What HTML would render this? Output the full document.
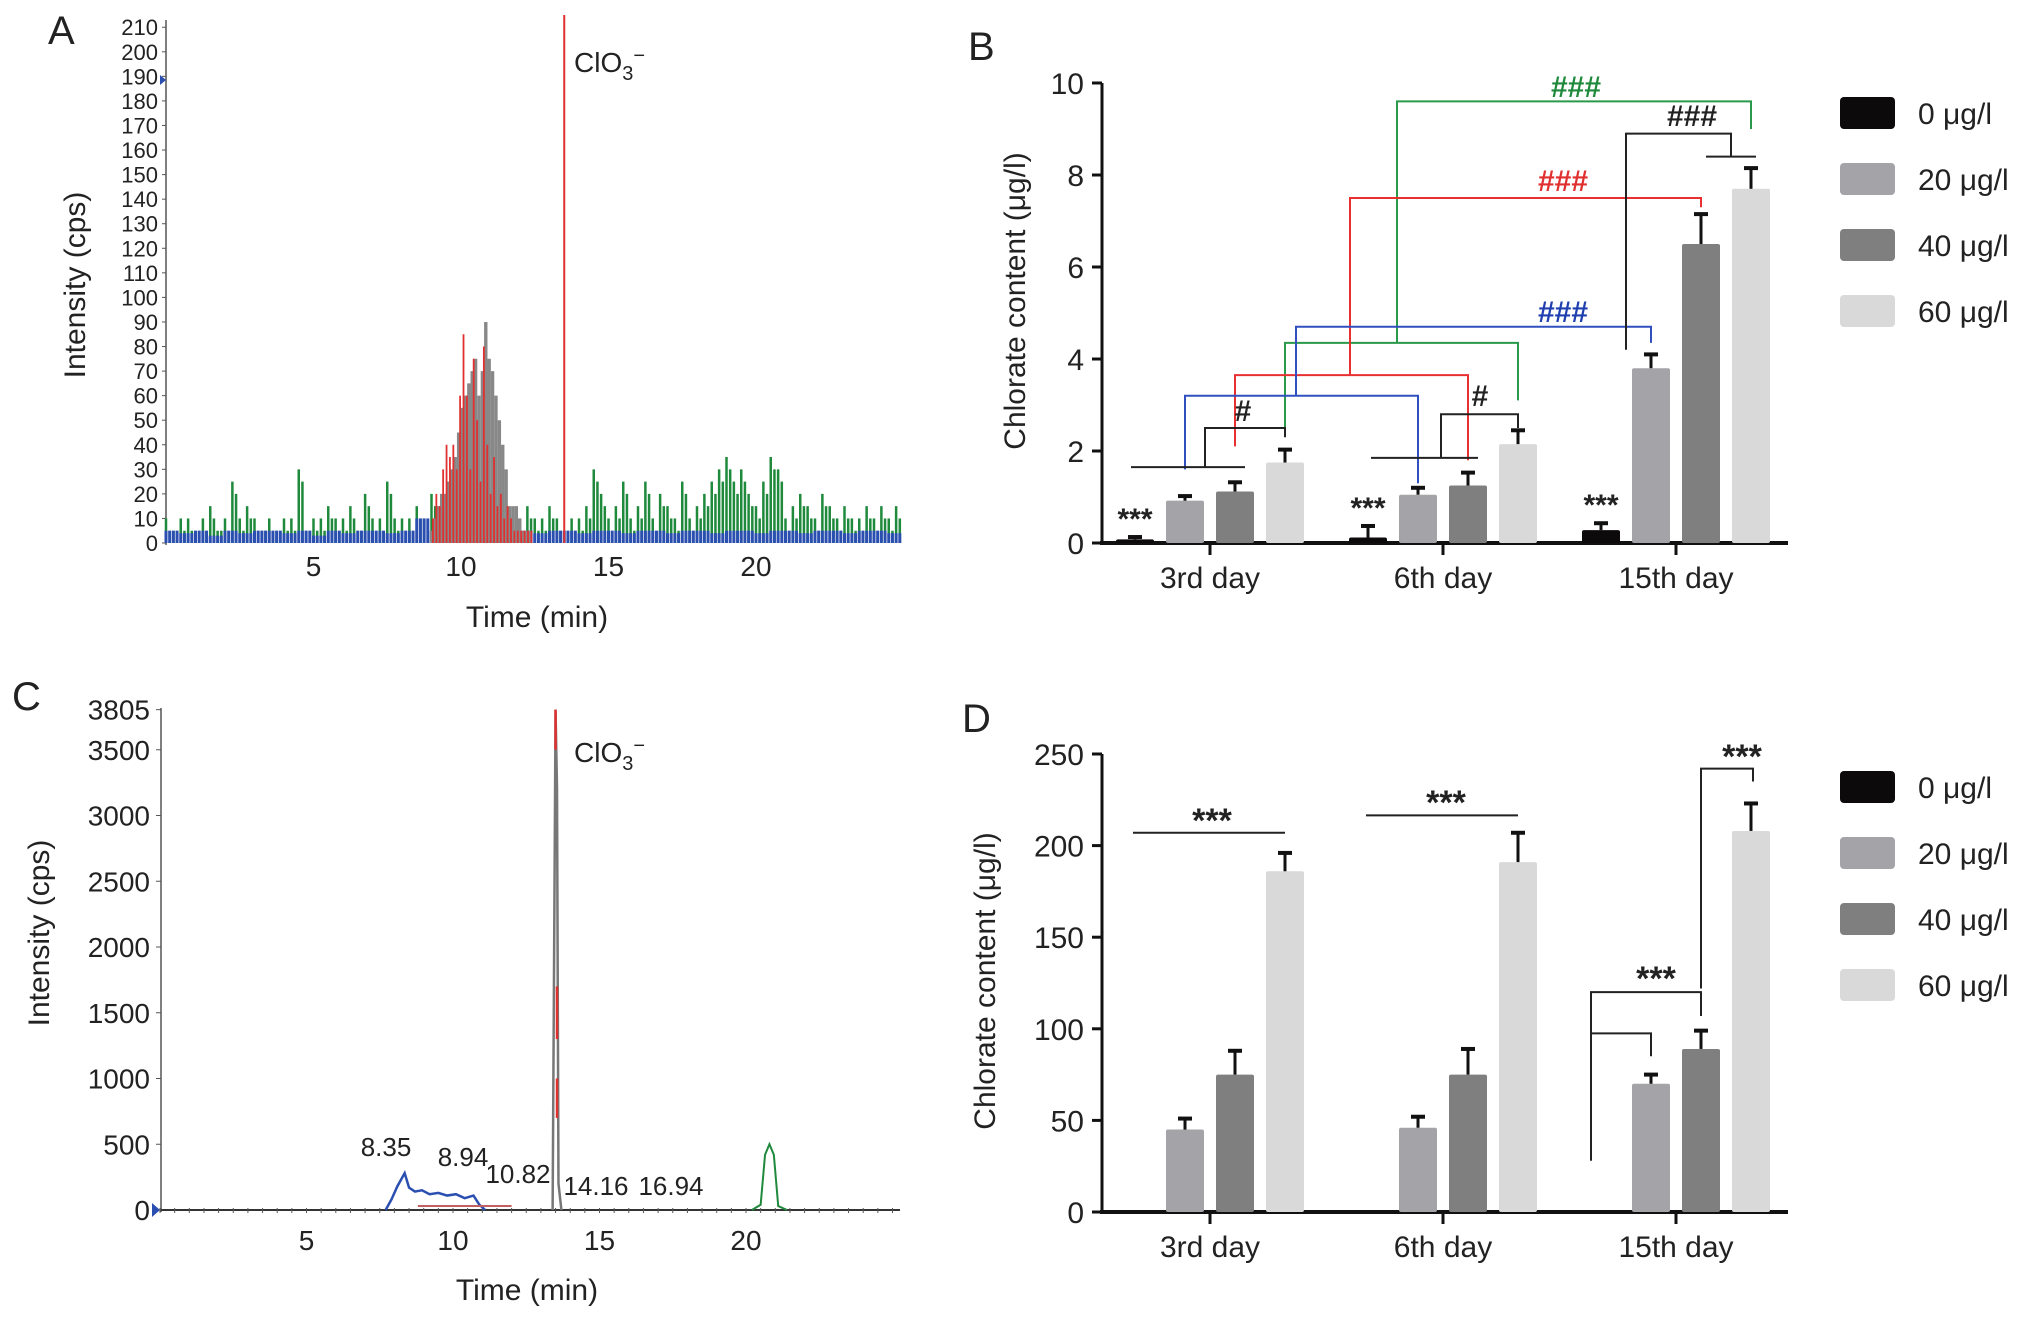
<!DOCTYPE html>
<html><head><meta charset="utf-8"><style>
html,body{margin:0;padding:0;background:#fff}
svg{display:block;font-family:"Liberation Sans",sans-serif}
</style></head><body>
<svg id="s" width="2032" height="1322" viewBox="0 0 2032 1322" xmlns="http://www.w3.org/2000/svg"></svg>
<script>
// ---------- data ----------
const categories = ["3rd day","6th day","15th day"];
const legendLabels = ["0 μg/l","20 μg/l","40 μg/l","60 μg/l"];
const barColors = ["#0d0a0b","#a3a3a8","#7f7f7f","#d9d9d9"];
const bMeans = [[0.08,0.92,1.12,1.75],[0.12,1.05,1.25,2.15],[0.28,3.8,6.5,7.7]];
const bErrs  = [[0.05,0.1,0.2,0.28],[0.25,0.15,0.28,0.3],[0.15,0.3,0.65,0.45]];
const bTicks = [0,2,4,6,8,10];
const dMeans = [[0,45,75,186],[0,46,75,191],[0,70,89,208]];
const dErrs  = [[0,6,13,10],[0,6,14,16],[0,5,10,15]];
const dTicks = [0,50,100,150,200,250];
const aYTicks = [0,10,20,30,40,50,60,70,80,90,100,110,120,130,140,150,160,170,180,190,200,210];
const timeTicks = [5,10,15,20];
const cYTicks = [0,500,1000,1500,2000,2500,3000,3500,3805];
// chromatogram A (step 0.25 min from 0)
const aGreen = [10,5,10,10,5,10,15,5, 10,25,10,15,10,5,10,5, 10,10,30,5,10,10,15,10, 10,15,5,20,10,10,25,10,
 10,10,15,10,20,15,10,10, 15,10,25,20,10,15,10,5, 10,15,10,10,15,10,5,10, 10,15,30,20,10,15,25,10,
 15,25,10,20,15,10,25,10, 15,20,25,30,35,25,30,20, 15,25,35,30,10,15,20,15, 10,20,15,10,15,10,10,15, 10,15,10,15];
// blue (step 0.5 min)
const aBlue = [5,4,5,3,5,4,5,5,4,5,3,5,4,5,5,4,5,10,5,15,5,10,5,5,5,4,5,5,4,5,5,4,5,5,4,5,5,4,5,5,4,5,5,4,5,5,4,5,5,4];
// peak region (from 9.0 min step 0.115)
const aGrey = [5,10,15,20,20,25,30,35,45,55,60,65,70,75,60,70,90,75,70,60,50,40,30,15,15,15,10,5,5,5];
const aRed  = [10,20,15,30,40,35,40,30,60,85,60,30,75,50,25,80,40,20,35,15,20,10,15,10,5,5,5,5,5,5];
const aClO3 = 215;
// chromatogram C
const cBlueT = [7.7,7.9,8.1,8.35,8.5,8.7,8.94,9.2,9.5,9.8,10.1,10.4,10.7,10.9,11.1];
const cBlueV = [0,80,180,280,170,140,150,120,130,110,120,90,110,40,0];
const cGreenT = [20.2,20.5,20.65,20.8,20.95,21.1,21.4];
const cGreenV = [0,40,420,500,420,30,0];
const cPeakT = [13.4,13.5,13.55,13.6,13.7];
const cPeakV = [0,3805,3200,200,0];
const cLabels = [["8.35",386,1156],["8.94",463,1166],["10.82",518,1183],["14.16",596,1195],["16.94",671,1195]];

// ---------- helpers ----------
const S = document.getElementById('s');
const NS = "http://www.w3.org/2000/svg";
function mk(tag, at, txt){const e=document.createElementNS(NS,tag);for(const k in at)e.setAttribute(k,at[k]);if(txt!==undefined)e.textContent=txt;S.appendChild(e);return e;}
function line(x1,y1,x2,y2,c,w){return mk('line',{x1,y1,x2,y2,stroke:c,'stroke-width':w});}
function text(x,y,t,size,anchor,fill){return mk('text',{x,y,'font-size':size,'text-anchor':anchor||'start',fill:fill||'#222'},t);}

// ---------- Panel A ----------
const xA=t=>166+29.5*t, yA=v=>543-2.456*v;
let e=text(48,44,"A",40);  
line(166,20,166,545,'#555',1.5);
aYTicks.forEach(v=>{const t=text(158,yA(v)+8,String(v),22,'end','#222');line(162,yA(v),166,yA(v),'#555',1);});
timeTicks.forEach(v=>{const t=text(xA(v),576,String(v),28,'middle');});
aGreen.forEach((v,i)=>{const l=line(xA(i*0.25),543,xA(i*0.25),yA(v),'#1f8a3c',2.5);
 const l2=line(xA(i*0.25+0.125),543,xA(i*0.25+0.125),yA(Math.max(5,v-5)),'#1f8a3c',2.5);});
aBlue.forEach((v,i)=>{for(let k=0;k<4;k++){const l=line(xA(i*0.5+k*0.125),543,xA(i*0.5+k*0.125),yA(v),'#2a4fb0',3);}});
aGrey.forEach((v,i)=>{const l=line(xA(9.0+i*0.115),543,xA(9.0+i*0.115),yA(v),'#888',3.4);});
aRed.forEach((v,i)=>{const l=line(xA(9.05+i*0.115),543,xA(9.05+i*0.115),yA(v),'#e03030',1.8);});
e=line(xA(13.5),543,xA(13.5),yA(aClO3),'#e03030',2);
e=mk('text',{x:574,y:72,'font-size':28,fill:'#222'});e.innerHTML='ClO<tspan font-size="20" dy="8">3</tspan><tspan font-size="20" dy="-18">−</tspan>';
mk('polygon',{points:'160,75 166,80 160,85',fill:'#2a4fb0'});
e=text(537,627,"Time (min)",30,'middle');
e=text(0,0,"Intensity (cps)",30,'middle');e.setAttribute('transform','translate(85,285) rotate(-90)');

// ---------- Panel C ----------
const xC=t=>160+29.3*t, yC=v=>1210-0.1315*v;
e=text(12,710,"C",40);
line(161,708,161,1212,'#555',1.5);
line(161,1210,900,1210,'#333',2);
for(let t=0;t<=25;t+=0.5)line(xC(t),1208,xC(t),1213,'#555',1);
cYTicks.forEach(v=>{const t=text(150,yC(v)+10,String(v),28,'end');line(156,yC(v),161,yC(v),'#555',1);});
timeTicks.forEach(v=>{const t=text(xC(v),1250,String(v),28,'middle');});
e=mk('polyline',{points:cBlueT.map((t,i)=>xC(t)+','+yC(cBlueV[i])).join(' '),fill:'none',stroke:'#2a4fb0','stroke-width':2.5});
e=mk('polyline',{points:cGreenT.map((t,i)=>xC(t)+','+yC(cGreenV[i])).join(' '),fill:'none',stroke:'#1f8a3c','stroke-width':2});
e=mk('polyline',{points:cPeakT.map((t,i)=>xC(t)+','+yC(cPeakV[i])).join(' '),fill:'none',stroke:'#777','stroke-width':2.5});
line(xC(13.5),yC(3805),xC(13.5),yC(3500),'#e03030',2.5);line(xC(13.55),yC(1700),xC(13.55),yC(1300),'#e03030',2.5);line(xC(13.55),yC(1000),xC(13.55),yC(700),'#e03030',2.5);
line(xC(8.8),1206,xC(12),1206,'#c06060',2);
cLabels.forEach(c=>{const t=text(c[1],c[2],c[0],26,'middle');});
e=mk('text',{x:574,y:762,'font-size':28,fill:'#222'});e.innerHTML='ClO<tspan font-size="20" dy="8">3</tspan><tspan font-size="20" dy="-18">−</tspan>';
mk('polygon',{points:'152,1203 160,1210 152,1217',fill:'#2a4fb0'});
e=text(527,1300,"Time (min)",30,'middle');
e=text(0,0,"Intensity (cps)",30,'middle');e.setAttribute('transform','translate(49,933) rotate(-90)');

// ---------- bar charts ----------
const offs=[-75,-25,25,75], BW=38;
function barChart(p, means, errs, ticks, yF, baseY, topY, legendY){
  const gx=g=>1210+233*g;
  line(1102,topY,1102,baseY+2,'#111',3);
  line(1100,baseY,1788,baseY,'#111',4);
  ticks.forEach(v=>{line(1092,yF(v),1102,yF(v),'#111',3);const t=text(1084,yF(v)+11,String(v),30,'end');});
  categories.forEach((c,g)=>{line(gx(g),baseY,gx(g),baseY+12,'#111',3);const t=text(gx(g),baseY+45,c,30,'middle');
    means[g].forEach((m,k)=>{ if(m<=0)return; const x=gx(g)+offs[k];
      const r=mk('rect',{x:x-BW/2,y:yF(m),width:BW,height:baseY-yF(m),fill:barColors[k],rx:2});
      const et=yF(m+errs[g][k]);line(x,yF(m),x,et,'#111',3);line(x-7,et,x+7,et,'#111',4);
    });});
  legendLabels.forEach((l,k)=>{const y=legendY+k*66;const r=mk('rect',{x:1840,y:y-16,width:55,height:32,fill:barColors[k],rx:4});
    const t=text(1918,y+11,l,30);});
  return gx;
}
// Panel B
const yB=v=>543-46*v;
e=text(968,60,"B",40);
const gx=barChart('b',bMeans,bErrs,bTicks,yB,543,83,113);
e=text(0,0,"Chlorate content (μg/l)",30,'middle');e.setAttribute('transform','translate(1025,301) rotate(-90)');
function br(pts,c){const p=mk('polyline',{points:pts.map(q=>q.join(',')).join(' '),fill:'none',stroke:c,'stroke-width':2});}
const bx=(g,k)=>gx(g)+offs[k];
br([[bx(0,3),yB(2.5)],[bx(0,3),yB(4.35)],[bx(1,3),yB(4.35)],[bx(1,3),yB(3.1)]],'#2a9a4a');
br([[1397,yB(4.35)],[1397,yB(9.6)],[bx(2,3),yB(9.6)],[bx(2,3),yB(9.0)]],'#2a9a4a');
br([[bx(0,2),yB(2.1)],[bx(0,2),yB(3.65)],[bx(1,2),yB(3.65)],[bx(1,2),yB(1.8)]],'#e83030');
br([[1350,yB(3.65)],[1350,yB(7.5)],[bx(2,2),yB(7.5)],[bx(2,2),yB(7.3)]],'#e83030');
br([[bx(0,1),yB(1.6)],[bx(0,1),yB(3.2)],[bx(1,1),yB(3.2)],[bx(1,1),yB(1.3)]],'#3050c0');
br([[1296,yB(3.2)],[1296,yB(4.7)],[bx(2,1),yB(4.7)],[bx(2,1),yB(4.35)]],'#3050c0');
br([[bx(0,0)-4,yB(1.65)],[bx(0,2)+10,yB(1.65)]],'#222');br([[1205,yB(1.65)],[1205,yB(2.5)],[bx(0,3),yB(2.5)],[bx(0,3),yB(2.3)]],'#222');
br([[bx(1,0)+3,yB(1.85)],[bx(1,2)+10,yB(1.85)]],'#222');br([[1441,yB(1.85)],[1441,yB(2.8)],[bx(1,3),yB(2.8)],[bx(1,3),yB(2.5)]],'#222');
br([[bx(2,0)+25,yB(4.2)],[bx(2,0)+25,yB(8.9)],[bx(2,2)+30,yB(8.9)],[bx(2,2)+30,yB(8.4)]],'#222');br([[bx(2,2)+5,yB(8.4)],[bx(2,3)+5,yB(8.4)]],'#222');
[["###",1576,97,'#1f8a3c'],["###",1563,191,'#e03030'],["###",1563,322,'#2040b0'],["###",1692,126,'#222'],["#",1243,421,'#222'],["#",1480,406,'#222']].forEach(a=>{const t=text(a[1],a[2],a[0],30,'middle',a[3]);t.setAttribute('font-weight','bold');});
[0,1,2].forEach(g=>{const t=text(bx(g,0),yB(bMeans[g][0]+bErrs[g][0])-8,"***",30,'middle');t.setAttribute('font-weight','bold');});
// Panel D
const yD=v=>1212-1.832*v;
e=text(962,732,"D",40);
const gxD=barChart('d',dMeans,dErrs,dTicks,yD,1212,754,787);
e=text(0,0,"Chlorate content (μg/l)",30,'middle');e.setAttribute('transform','translate(995,981) rotate(-90)');
const dx=(g,k)=>gxD(g)+offs[k];
br([[dx(0,0)-2,yD(207)],[dx(0,3),yD(207)]],'#222');
br([[dx(1,0)-2,yD(216.5)],[dx(1,3),yD(216.5)]],'#222');
br([[dx(2,0)-10,yD(28)],[dx(2,0)-10,yD(120)],[dx(2,2),yD(120)],[dx(2,2),yD(107)]],'#222');
br([[dx(2,0)-10,yD(97.5)],[dx(2,1),yD(97.5)],[dx(2,1),yD(85)]],'#222');
br([[dx(2,2),yD(122)],[dx(2,2),yD(242)],[dx(2,3)+2,yD(242)],[dx(2,3)+2,yD(235)]],'#222');
[[1212,832],[1446,814],[1656,990],[1742,768]].forEach(a=>{const t=text(a[0],a[1],"***",34,'middle');t.setAttribute('font-weight','bold');});
</script>
</body></html>
